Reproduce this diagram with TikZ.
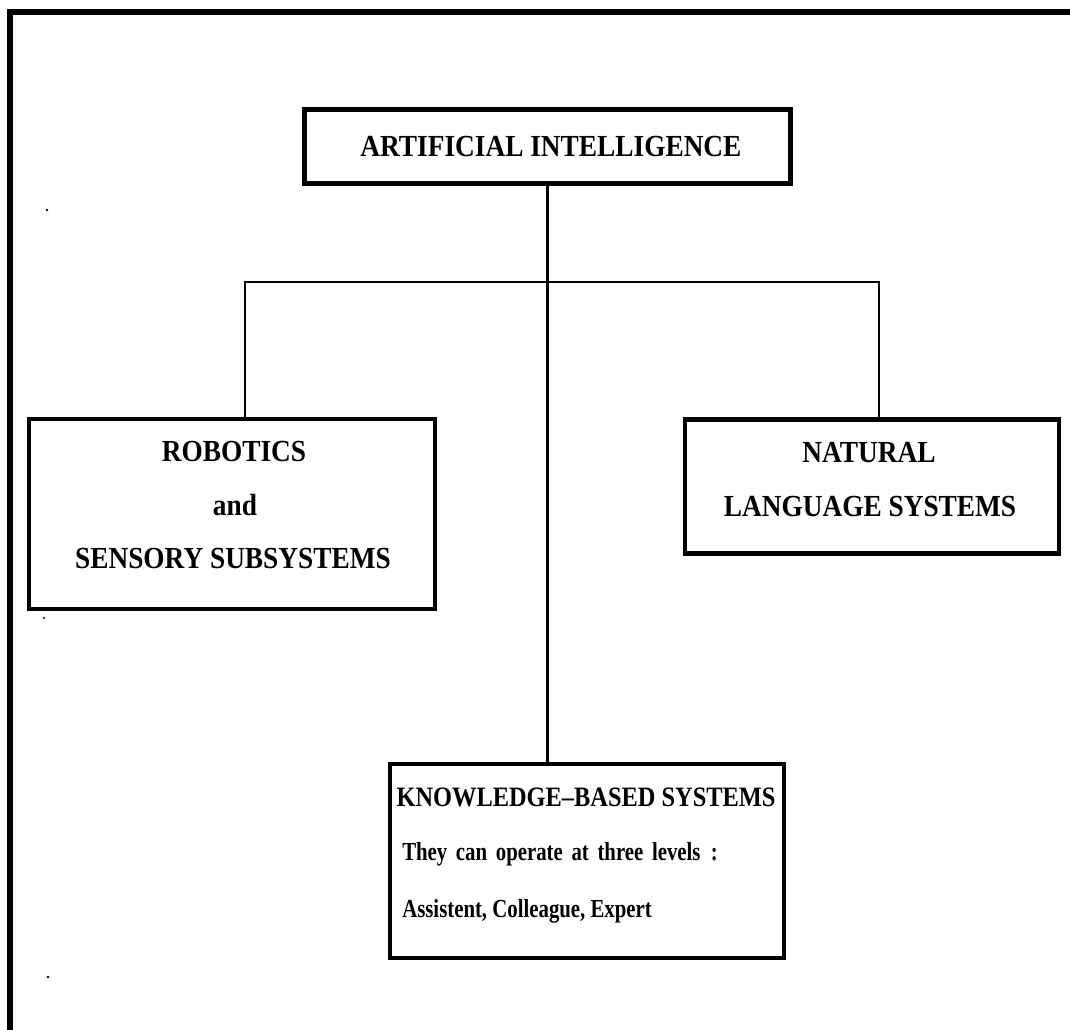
\documentclass[tikz,border=0pt]{standalone}
\usepackage{fontspec}
\setmainfont{Liberation Serif}
% taller, slightly condensed look of the lettering
\newcommand{\tall}[2]{\scalebox{1}[#1]{#2}}
\begin{document}
\begin{tikzpicture}[x=0.75pt,y=-0.75pt,
  box/.style={draw, rectangle, line width=3.6pt, inner sep=0pt},
  link/.style={line width=1.8pt},
  frame/.style={line width=3.8pt, line join=miter},
  head/.style={inner sep=0pt, anchor=base, font=\fontsize{20.5}{24}\selectfont\bfseries},
  kbhead/.style={inner sep=0pt, anchor=base, font=\fontsize{18.3}{22}\selectfont\bfseries},
  kbline/.style={inner sep=0pt, anchor=base west, font=\fontsize{15.6}{19}\selectfont\bfseries},
  speck/.style={fill=black}
]
\useasboundingbox (0,0) rectangle (1070,1030);

% page frame (top and left edges)
\draw[frame] (1070,12) -- (10,12) -- (10,1030);

% boxes
\node[box, minimum width=365pt, minimum height=56pt] (ai) at (547.5,146.5) {};
\node[box, minimum width=304.5pt, minimum height=142.5pt] (robot) at (232,514) {};
\node[box, minimum width=280.5pt, minimum height=100pt] (nat) at (872,486.5) {};
\node[box, minimum width=295.5pt, minimum height=145.5pt] (kbs) at (587,861) {};

% box texts
\node[head] (aiT) at (551,157) {\tall{1.12}{ARTIFICIAL INTELLIGENCE}};
\node[head] (robotT1) at (234,461) {\tall{1.12}{ROBOTICS}};
\node[head] (robotT2) at (235,515) {\tall{1.12}{and}};
\node[head] (robotT3) at (233,568) {\tall{1.12}{SENSORY SUBSYSTEMS}};
\node[head] (natT1) at (869,462) {\tall{1.12}{NATURAL}};
\node[head] (natT2) at (870,516) {\tall{1.12}{LANGUAGE SYSTEMS}};
\node[kbhead] (kbsT1) at (586,806) {\tall{1.15}{KNOWLEDGE--BASED SYSTEMS}};
\node[kbline] (kbsT2) at (402,860) {\tall{1.25}{They\, can\, operate\, at\, three\, levels\ \ :}};
\node[kbline] (kbsT3) at (402,917) {\tall{1.25}{Assistent, Colleague, Expert}};

% connectors
\coordinate (jl) at (245,282);
\coordinate (jr) at (879,282);
\draw[link] (ai.south) -- (ai.south |- kbs.north);
\draw[link] (jl |- robot.north) -- (jl) -- (jr) -- (jr |- nat.north);

% small marks in the left margin
\fill[speck] (47,210) circle (1.1pt);
\fill[speck] (44,618) circle (0.9pt);
\fill[speck] (48,977) circle (1.1pt);
\end{tikzpicture}
\end{document}
